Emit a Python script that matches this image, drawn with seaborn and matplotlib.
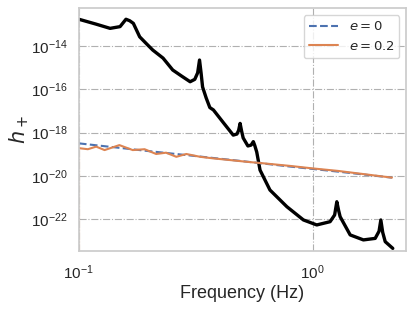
import numpy as np
import pandas as pd
import seaborn as sns
import matplotlib
matplotlib.use("Agg")
import matplotlib.pyplot as plt

# black curve (detector-like curve with resonance peaks)
black_f = [0.100, 0.118, 0.136, 0.150, 0.159, 0.165, 0.171, 0.182, 0.195, 0.207,
           0.229, 0.252, 0.275, 0.299, 0.313, 0.322, 0.328, 0.333, 0.338, 0.350,
           0.363, 0.376, 0.415, 0.457, 0.474, 0.482, 0.489, 0.496, 0.504, 0.528,
           0.545, 0.557, 0.565, 0.576, 0.595, 0.656, 0.775, 0.912, 1.04, 1.186,
           1.240, 1.267, 1.290, 1.309, 1.445, 1.646, 1.848, 1.920, 1.954, 1.990,
           2.04, 2.198]
black_logh = [-12.78, -13.00, -13.20, -13.12, -12.78, -12.85, -12.97, -13.59, -13.92, -14.20,
              -14.57, -15.12, -15.40, -15.66, -15.55, -15.25, -14.66, -15.25, -15.90, -16.40,
              -16.85, -16.96, -17.55, -18.12, -18.07, -17.90, -17.58, -17.92, -18.25, -18.62,
              -18.58, -18.42, -18.60, -18.90, -19.73, -20.65, -21.42, -22.03, -22.26, -22.11,
              -21.80, -21.19, -21.60, -21.88, -22.72, -22.95, -22.88, -22.55, -22.03, -22.60,
              -23.03, -23.34]

# e = 0 (dashed blue)
e0_f = [0.100, 0.150, 0.200, 0.300, 0.500, 0.800, 1.300, 2.180]
e0_logh = [-18.50, -18.71, -18.86, -19.06, -19.32, -19.57, -19.81, -20.08]

# e = 0.2 (solid orange), first point sits far below the axis
e2_f = [0.100, 0.100, 0.1093, 0.1186, 0.1288, 0.149, 0.170, 0.191, 0.214, 0.236, 0.261,
        0.288, 0.330, 0.374, 0.443, 0.522, 0.615, 0.800, 0.990, 1.282, 2.180]
e2_logh = [-30.0, -18.42, -18.77, -18.65, -18.81, -18.58, -18.81, -18.77, -18.99, -18.93, -19.12,
           -18.99, -19.12, -19.19, -19.27, -19.35, -19.42, -19.54, -19.65, -19.77, -20.08]

sns.set_theme(style="whitegrid")
plt.rcParams['font.family'] = ['Liberation Sans', 'DejaVu Sans']

fig = plt.figure(figsize=(4.15, 3.11), dpi=100)
ax = fig.add_axes([0.190, 0.193, 0.788, 0.780])

sns.lineplot(x=black_f, y=10 ** np.array(black_logh), color="black", lw=2.4, ax=ax)
sns.lineplot(x=e0_f, y=10 ** np.array(e0_logh), color="#4C72B0", lw=1.5,
             linestyle="--", label="$e = 0$", ax=ax)
sns.lineplot(x=e2_f, y=10 ** np.array(e2_logh), color="#DD8452", lw=1.5,
             label="$e = 0.2$", sort=False, ax=ax)

ax.set_xscale("log")
ax.set_yscale("log")
ax.set_xlim(0.1, 2.5)
ax.set_ylim(10 ** -23.46, 10 ** -12.28)
ax.set_xticks([0.1, 1.0])
ax.set_yticks([1e-14, 1e-16, 1e-18, 1e-20, 1e-22])
ax.minorticks_off()
ax.grid(True, linestyle="-.", color="#b0b0b0", lw=0.8)

ax.tick_params(axis="x", labelsize=11, pad=3)
ax.tick_params(axis="y", labelsize=11, pad=2)
ax.set_xlabel("Frequency (Hz)", fontsize=13, labelpad=2)
ax.set_ylabel("$h_+$", fontsize=15, labelpad=0)
ax.legend(loc="upper right", fontsize=9.5, handlelength=2.2)

fig.savefig("out.png", dpi=100)
